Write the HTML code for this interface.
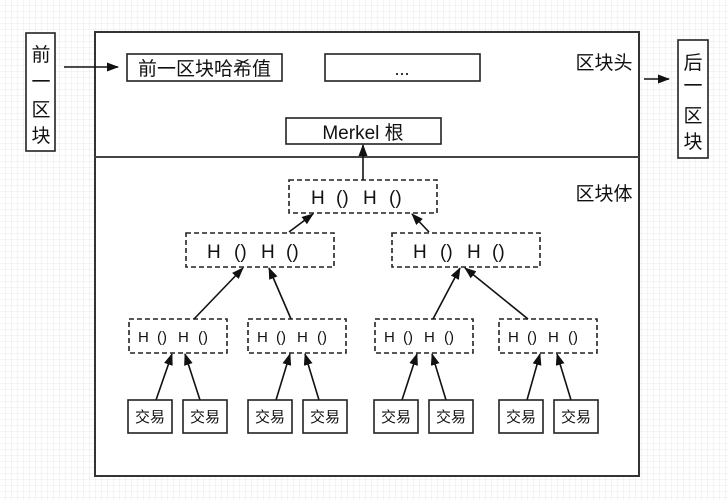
<!DOCTYPE html>
<html><head><meta charset="utf-8">
<style>
html,body{margin:0;padding:0;background:#fff;}
svg{display:block;}
text{font-family:"Liberation Sans","Noto Sans CJK SC",sans-serif;fill:#111;}
</style></head>
<body>
<svg width="728" height="500" viewBox="0 0 728 500" xmlns="http://www.w3.org/2000/svg">
<defs>
<pattern id="g" width="6" height="6" patternUnits="userSpaceOnUse">
<path d="M6 0V6M0 6H6" stroke="#e9e9e9" stroke-width="1" fill="none"/>
</pattern>
<marker id="a" markerWidth="12" markerHeight="9" refX="11" refY="4.5" orient="auto" markerUnits="userSpaceOnUse">
<path d="M0,0 L12,4.5 L0,9 Z" fill="#111"/>
</marker>
</defs>
<rect width="728" height="500" fill="#fff"/>
<rect width="728" height="500" fill="url(#g)"/>

<!-- main block -->
<rect x="95" y="32" width="544" height="444" fill="#fff" stroke="#333" stroke-width="2"/>
<line x1="95" y1="157" x2="639" y2="157" stroke="#444" stroke-width="2"/>

<!-- left prev block -->
<rect x="26" y="33" width="29" height="118" fill="#fff" stroke="#222" stroke-width="1.6"/>
<g font-size="19" text-anchor="middle">
<text x="41" y="61">前</text>
<text x="41" y="88">一</text>
<text x="41" y="116">区</text>
<text x="41" y="142">块</text>
</g>
<line x1="64" y1="67" x2="118" y2="67" stroke="#111" stroke-width="1.6" marker-end="url(#a)"/>

<!-- right next block -->
<rect x="678" y="40" width="30" height="118" fill="#fff" stroke="#222" stroke-width="1.6"/>
<g font-size="19" text-anchor="middle">
<text x="693" y="69">后</text>
<text x="693" y="92">一</text>
<text x="693" y="122">区</text>
<text x="693" y="148">块</text>
</g>
<line x1="644" y1="79" x2="669" y2="79" stroke="#111" stroke-width="1.6" marker-end="url(#a)"/>

<!-- header -->
<rect x="127" y="54" width="155" height="27" fill="#fff" stroke="#222" stroke-width="1.6"/>
<text x="204.5" y="75" font-size="19" text-anchor="middle">前一区块哈希值</text>
<rect x="325" y="54" width="155" height="27" fill="#fff" stroke="#222" stroke-width="1.6"/>
<text x="402" y="75" font-size="18" text-anchor="middle">...</text>
<text x="604" y="69" font-size="19" text-anchor="middle">区块头</text>
<text x="604" y="200" font-size="19" text-anchor="middle">区块体</text>

<rect x="286" y="118" width="155" height="26" fill="#fff" stroke="#222" stroke-width="1.6"/>
<text x="363" y="139" font-size="19" text-anchor="middle">Merkel 根</text>

<!-- root -->
<line x1="363" y1="180" x2="363" y2="145" stroke="#111" stroke-width="1.6" marker-end="url(#a)"/>
<g fill="#fff" stroke="#222" stroke-width="1.6" stroke-dasharray="5,3">
<rect x="289" y="180" width="148" height="33"/>
<rect x="186" y="233" width="148" height="34"/>
<rect x="392" y="233" width="148" height="34"/>
<rect x="129" y="319" width="98" height="34"/>
<rect x="248" y="319" width="98" height="34"/>
<rect x="375" y="319" width="98" height="34"/>
<rect x="499" y="319" width="98" height="34"/>
</g>
<g font-size="19">
<text x="311" y="204">H</text><text x="336" y="204">()</text><text x="363" y="204">H</text><text x="389" y="204">()</text>
<text x="207" y="258">H</text><text x="234" y="258">()</text><text x="261" y="258">H</text><text x="286" y="258">()</text>
<text x="413" y="258">H</text><text x="440" y="258">()</text><text x="467" y="258">H</text><text x="492" y="258">()</text>
</g>
<g font-size="15">
<text x="138" y="342">H</text><text x="157" y="342">()</text><text x="178" y="342">H</text><text x="198" y="342">()</text>
<text x="257" y="342">H</text><text x="276" y="342">()</text><text x="297" y="342">H</text><text x="317" y="342">()</text>
<text x="384" y="342">H</text><text x="403" y="342">()</text><text x="424" y="342">H</text><text x="444" y="342">()</text>
<text x="508" y="342">H</text><text x="527" y="342">()</text><text x="548" y="342">H</text><text x="568" y="342">()</text>
</g>

<!-- arrows between hash levels -->
<g stroke="#111" stroke-width="1.6" marker-end="url(#a)">
<line x1="289" y1="232" x2="313" y2="214"/>
<line x1="429" y1="232" x2="412" y2="214"/>
<line x1="194" y1="319" x2="243" y2="268"/>
<line x1="291" y1="319" x2="269" y2="268"/>
<line x1="433" y1="319" x2="460" y2="268"/>
<line x1="528" y1="319" x2="465" y2="268"/>
<line x1="156" y1="400" x2="172" y2="354"/>
<line x1="200" y1="400" x2="185" y2="354"/>
<line x1="276" y1="400" x2="290" y2="354"/>
<line x1="319" y1="400" x2="305" y2="354"/>
<line x1="402" y1="400" x2="417" y2="354"/>
<line x1="446" y1="400" x2="432" y2="354"/>
<line x1="527" y1="400" x2="540" y2="354"/>
<line x1="571" y1="400" x2="557" y2="354"/>
</g>

<!-- transactions -->
<g fill="#fff" stroke="#222" stroke-width="1.6">
<rect x="128" y="400" width="44" height="33"/>
<rect x="183" y="400" width="44" height="33"/>
<rect x="248" y="400" width="44" height="33"/>
<rect x="303" y="400" width="44" height="33"/>
<rect x="374" y="400" width="44" height="33"/>
<rect x="429" y="400" width="44" height="33"/>
<rect x="499" y="400" width="44" height="33"/>
<rect x="554" y="400" width="44" height="33"/>
</g>
<g font-size="15" text-anchor="middle">
<text x="150" y="422">交易</text>
<text x="205" y="422">交易</text>
<text x="270" y="422">交易</text>
<text x="325" y="422">交易</text>
<text x="396" y="422">交易</text>
<text x="451" y="422">交易</text>
<text x="521" y="422">交易</text>
<text x="576" y="422">交易</text>
</g>
</svg>
</body></html>
